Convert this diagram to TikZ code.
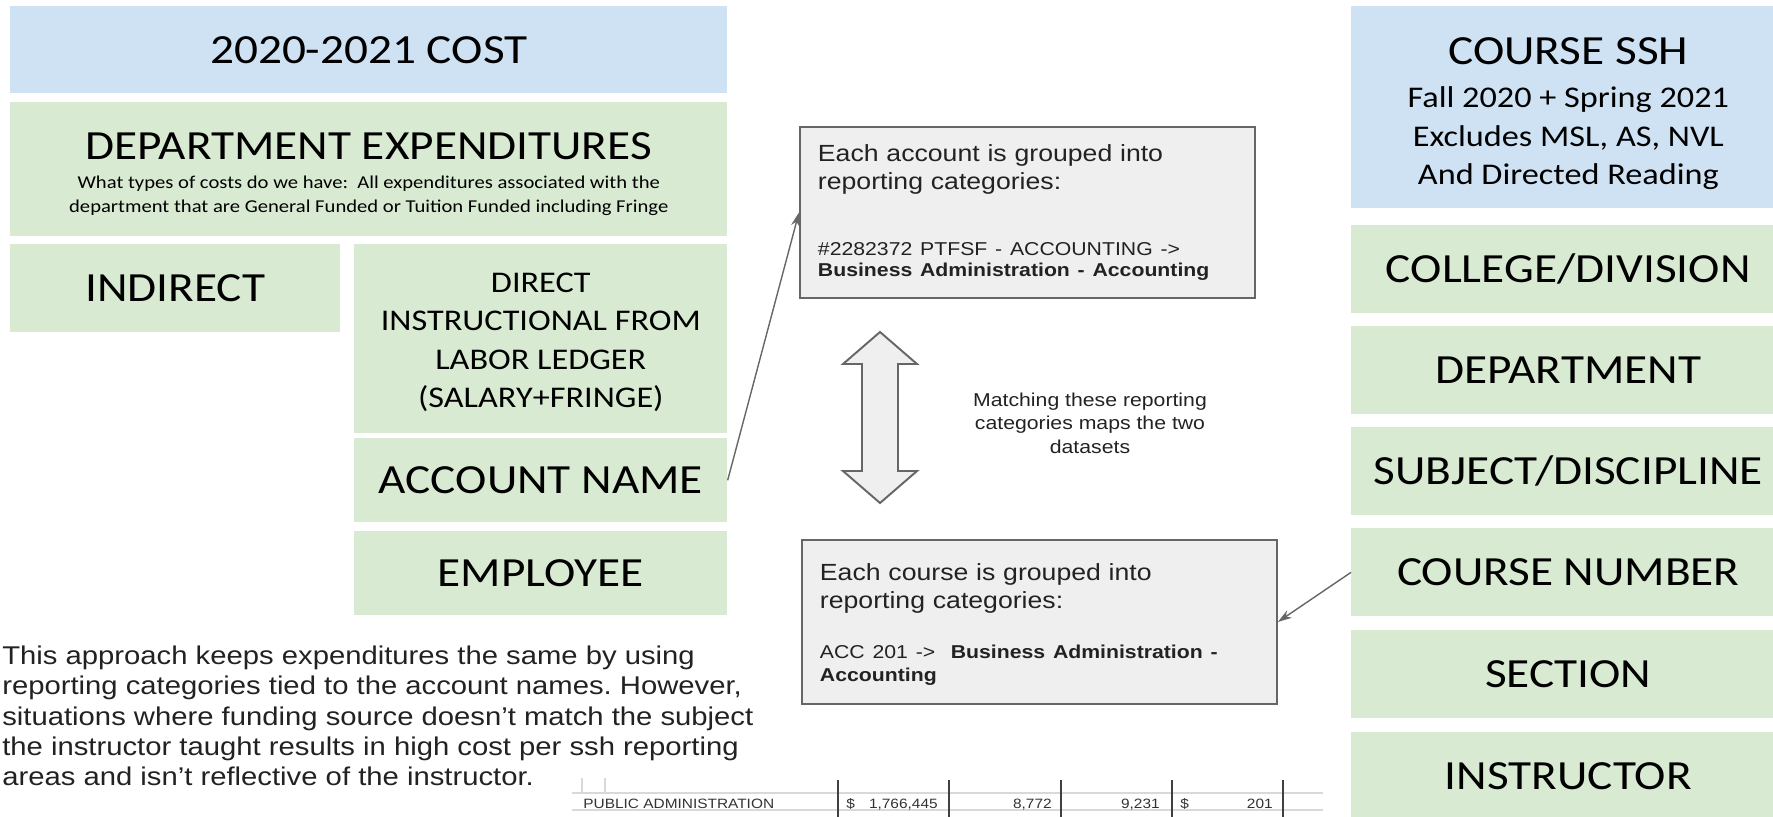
\documentclass[tikz,border=0pt]{standalone}
\usepackage{fontspec}
\usetikzlibrary{arrows.meta}

\newfontfamily\carl[FakeStretch=1.14]{Carlito}
\newfontfamily\arl[FakeStretch=1.14]{Liberation Sans}
\newcommand\fTitle{\carl\fontsize{23.6}{28}\selectfont}
\newcommand\fMid{\carl\fontsize{17.1}{21.8}\selectfont}
\newcommand\fSub{\carl\fontsize{10.3}{13.7}\selectfont}
\newcommand\fBox{\arl\fontsize{13.3}{15.9}\selectfont}
\newcommand\fNote{\arl\fontsize{10.6}{12}\selectfont}
\newcommand\fMatch{\arl\fontsize{10.6}{13.3}\selectfont}
\newcommand\fPara{\arl\fontsize{14.6}{17.1}\selectfont\frenchspacing}
\newcommand\fTab{\arl\fontsize{7.7}{9}\selectfont}

\definecolor{slblue}{HTML}{CFE2F3}
\definecolor{slgreen}{HTML}{D9EAD3}
\definecolor{slgray}{HTML}{EFEFEF}
\definecolor{slline}{HTML}{666666}
\definecolor{sltext}{HTML}{222222}

\begin{document}
\begin{tikzpicture}[x=0.02cm, y=-0.02cm,
  bluebox/.style={fill=slblue, anchor=north west, inner sep=0pt, align=center, font=\fTitle},
  greenbox/.style={fill=slgreen, anchor=north west, inner sep=0pt, align=center, font=\fTitle},
  graybox/.style={fill=slgray, draw=slline, line width=1.1pt, anchor=north west,
    inner xsep=0.36cm, inner ysep=0pt, align=left, text=sltext, font=\fBox},
  link/.style={-{Stealth[length=8pt,width=5pt]}, draw=slline, line width=0.8pt},
  tabcell/.style={inner sep=0pt, text=black!80, font=\fTab}
]
\path[use as bounding box, clip] (0,0) rectangle (1773,817);

% expenditures side
\node[bluebox, minimum width=14.34cm, minimum height=1.74cm] (cost) at (10,6) {2020-2021 COST};
\node[greenbox, minimum width=14.34cm, minimum height=2.68cm, font=\fSub] (deptexp) at (10,102)
  {{\fTitle\rule{0pt}{21pt}DEPARTMENT EXPENDITURES}\\[2.5pt]
   What types of costs do we have:\ \ All expenditures associated with the\\
   department that are General Funded or Tuition Funded including Fringe};
\node[greenbox, minimum width=6.6cm, minimum height=1.76cm] (indirect) at (10,244) {INDIRECT};
\node[greenbox, minimum width=7.46cm, minimum height=3.78cm, font=\fMid] (direct) at (354,244)
  {\rule{0pt}{15pt}DIRECT\\ INSTRUCTIONAL FROM\\ LABOR LEDGER\\ (SALARY+FRINGE)};
\node[greenbox, minimum width=7.46cm, minimum height=1.68cm] (acctname) at (354,438) {ACCOUNT NAME};
\node[greenbox, minimum width=7.46cm, minimum height=1.68cm] (employee) at (354,531) {EMPLOYEE};

% ssh side
\node[bluebox, minimum width=8.68cm, minimum height=4.04cm, font=\fMid] (ssh) at (1351,6)
  {{\fTitle\rule{0pt}{22.6pt}COURSE SSH}\\[2.7pt] Fall 2020 + Spring 2021\\ Excludes MSL, AS, NVL\\ And Directed Reading};
\foreach \ry/\rname/\rtext in {225/college/{COLLEGE/DIVISION}, 326/rdept/DEPARTMENT,
    427/subject/{SUBJECT/DISCIPLINE}, 528/coursenum/{COURSE NUMBER},
    630/section/SECTION, 732/instructor/INSTRUCTOR}
  \node[greenbox, minimum width=8.68cm, minimum height=1.76cm] (\rname) at (1351,\ry) {\rtext};

% mapping notes
\node[graybox, minimum height=3.42cm, text width=8.38cm] (acctbox) at (799,126)
  {Each account is grouped into\\ reporting categories:\\[21.7pt]
   {\fNote \#2282372 PTFSF - ACCOUNTING ->}\\[-3.9pt]
   {\fNote\bfseries Business Administration - Accounting}};
\node[graybox, minimum height=3.28cm, text width=8.78cm] (coursebox) at (801,539)
  {\rule{0pt}{12.5pt}Each course is grouped into\\ reporting categories:\\[13pt]
   {\fNote ACC 201 ->\ \ \textbf{Business Administration -}}\\[-3pt]
   {\fNote\bfseries Accounting}};

\draw[fill=slgray, draw=slline, line width=1.1pt]
  (880,332) -- (917,364) -- (898,364) -- (898,471) -- (917,471) -- (880,503)
  -- (843,471) -- (862,471) -- (862,364) -- (843,364) -- cycle;
\node[align=center, inner sep=0pt, text=sltext, font=\fMatch] (matchtxt) at (1090,423)
  {Matching these reporting\\ categories maps the two\\ datasets};

\draw[link] (acctname.east) -- (acctbox.west);
\draw[link] (coursenum.west) -- (coursebox.east);

\node[anchor=north west, align=left, inner sep=0pt, text=sltext, font=\fPara] (approach) at (2,646)
  {This approach keeps expenditures the same by using\\
   reporting categories tied to the account names. However,\\
   situations where funding source doesn’t match the subject\\
   the instructor taught results in high cost per ssh reporting\\
   areas and isn’t reflective of the instructor.};

% table fragment
\draw[black!15, line width=1pt] (572,793) -- (1323,793) (572,810) -- (1323,810);
\draw[black!15, line width=0.8pt] (582,778) -- (582,793) (605,778) -- (605,793);
\foreach \tx in {838,949,1061,1172,1283}
  \draw[black!75, line width=1pt] (\tx,780) -- (\tx,817);
\node[tabcell, anchor=base west] (pubname) at (583,808) {PUBLIC ADMINISTRATION};
\node[tabcell, anchor=base west] (pubdollar) at (846,808) {\$};
\node[tabcell, anchor=base east] (pubcost) at (938,808) {1,766,445};
\node[tabcell, anchor=base east] (pubssh) at (1052,808) {8,772};
\node[tabcell, anchor=base east] (pubsec) at (1160,808) {9,231};
\node[tabcell, anchor=base west] (pubdollarb) at (1180,808) {\$};
\node[tabcell, anchor=base east] (pubper) at (1273,808) {201};

\end{tikzpicture}
\end{document}
